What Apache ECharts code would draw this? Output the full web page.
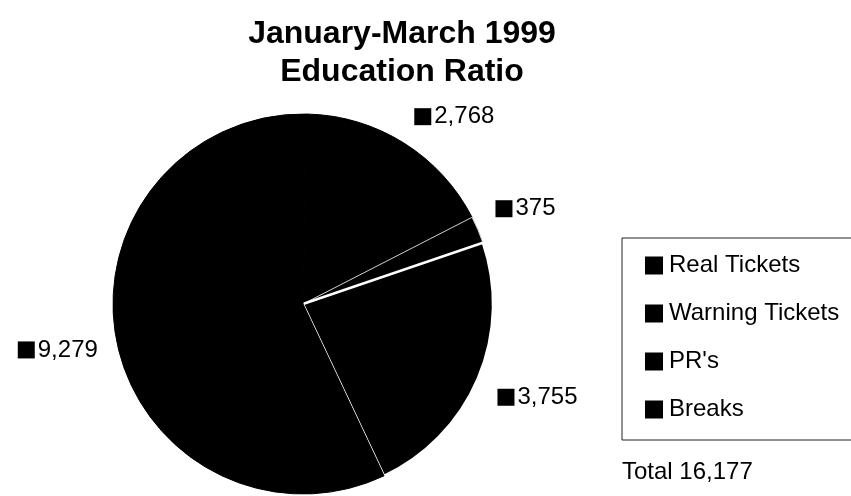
<!DOCTYPE html>
<html>
<head>
<meta charset="utf-8">
<script src="https://cdn.jsdelivr.net/npm/echarts@6/dist/echarts.min.js"></script>
<style>
html,body{margin:0;padding:0;background:#fff;}
#chart{width:851px;height:496px;}
</style>
</head>
<body>
<div id="chart"></div>
<script>
const titleLines = ['January-March 1999', 'Education Ratio'];
const categories = ['Real Tickets', 'Warning Tickets', "PR's", 'Breaks'];
const values = [2768, 375, 3755, 9279];
const totalLabel = 'Total';

const FONT = "'Liberation Sans', Arial, sans-serif";
const fmt = v => v.toLocaleString('en-US');
const total = values.reduce((a, b) => a + b, 0);

// styling per slice (kept separate from data)
const sliceBorder = [
  { borderColor: '#000', borderWidth: 1 },
  { borderColor: '#ccc', borderWidth: 1 },
  { borderColor: '#fff', borderWidth: 2.4 },
  { borderColor: '#000', borderWidth: 1 }
];
const labelShift = [[-11, 0], [-16, -9], [-14, 7], [16, 0]];

const chart = echarts.init(document.getElementById('chart'), null, { renderer: 'canvas' });

chart.setOption({
  backgroundColor: '#fff',
  animation: false,
  title: {
    text: titleLines.join('\n'),
    left: 397,
    top: 10,
    textAlign: 'center',
    textStyle: {
      fontFamily: FONT,
      fontSize: 32,
      fontWeight: 'bold',
      color: '#000',
      lineHeight: 38
    }
  },
  legend: {
    orient: 'vertical',
    left: 622,
    top: 238,
    padding: [15, 60, 18, 23],
    itemWidth: 18,
    itemHeight: 18,
    itemGap: 23,
    icon: 'rect',
    borderColor: '#222',
    borderWidth: 1,
    itemStyle: { borderWidth: 0 },
    textStyle: { fontFamily: FONT, fontSize: 24, color: '#000', lineHeight: 25, padding: [0, 0, 0, 1] },
    data: categories
  },
  graphic: [{
    type: 'text',
    left: 622,
    top: 460,
    style: {
      text: totalLabel + ' ' + fmt(total),
      font: '24px ' + FONT,
      fill: '#000'
    }
  }],
  series: [{
    type: 'pie',
    center: [303, 304],
    radius: 190,
    startAngle: 88.75,
    clockwise: true,
    avoidLabelOverlap: false,
    emphasis: { disabled: true },
    label: {
      show: true,
      position: 'outside',
      alignTo: 'none',
      distanceToLabelLine: 5,
      formatter: p => '{s|}{v|' + fmt(p.value) + '}',
      rich: {
        s: { width: 17, height: 17, backgroundColor: '#000' },
        v: { fontFamily: FONT, fontSize: 24, color: '#000', padding: [0, 0, 0, 3] }
      }
    },
    labelLine: { show: false, length: 31, length2: 0 },
    labelLayout: p => ({ dx: labelShift[p.dataIndex][0], dy: labelShift[p.dataIndex][1] }),
    data: categories.map((c, i) => ({
      name: c,
      value: values[i],
      itemStyle: Object.assign({ color: '#000' }, sliceBorder[i])
    }))
  }]
});
</script>
</body>
</html>
